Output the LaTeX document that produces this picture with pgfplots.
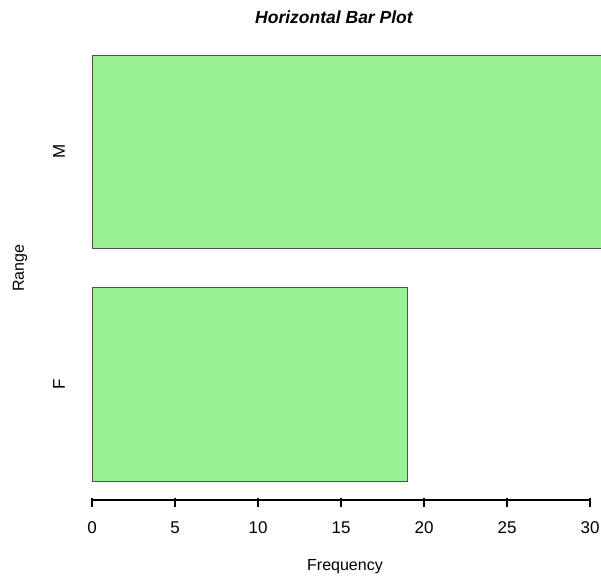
\documentclass[border=0pt]{standalone}
\usepackage{pgfplots}
\pgfplotsset{compat=1.18}
\usepackage{fontspec}
\setmainfont{Liberation Sans}
\definecolor{barfill}{RGB}{152,242,148}
\definecolor{baredge}{RGB}{80,80,80}
\begin{document}
\begin{tikzpicture}
\useasboundingbox (-92pt,-78pt) rectangle (509pt,498pt);
\begin{axis}[
  at={(0,0)}, anchor=south west,
  scale only axis,
  width=509pt, height=460pt,
  xmin=0, xmax=30.66,
  ymin=0.112, ymax=2.488,
  axis line style={draw=none},
  xtick={0,5,10,15,20,25,30},
  xtick pos=bottom,
  xtick align=outside,
  x tick style={black, line width=2.4pt},
  major tick length=9pt,
  ytick={0.7,1.9},
  yticklabels={F,M},
  ytick pos=left,
  y tick style={draw=none},
  yticklabel style={rotate=90, anchor=center, yshift=24pt},
  xticklabel style={anchor=center, yshift=-21pt},
  tick label style={font=\fontsize{17}{20}\selectfont},
  /pgf/number format/assume math mode=true,
  xlabel={Frequency},
  xlabel style={at={(rel axis cs:0.497,0)}, anchor=center, yshift=-69pt, font=\fontsize{16}{19}\selectfont},
  ylabel={Range},
  ylabel style={at={(rel axis cs:-0.1414,0.5)}, anchor=center, font=\fontsize{16}{19}\selectfont},
  title={Horizontal Bar Plot},
  title style={at={(rel axis cs:0.4754,1)}, anchor=center, yshift=15pt, font=\fontsize{17.5}{20}\selectfont\bfseries\itshape},
  xbar, bar width=1,
  clip=true,
]
\addplot[fill=barfill, draw=baredge, line width=0.8pt] coordinates {(19,0.7) (32,1.9)};
\coordinate (o) at (axis cs:0,0.112);
\coordinate (t) at (axis cs:30,0.112);
\end{axis}
\draw[black, line width=2.4pt] ([yshift=-2pt]o) -- ([yshift=-2pt]t);
\end{tikzpicture}
\end{document}
